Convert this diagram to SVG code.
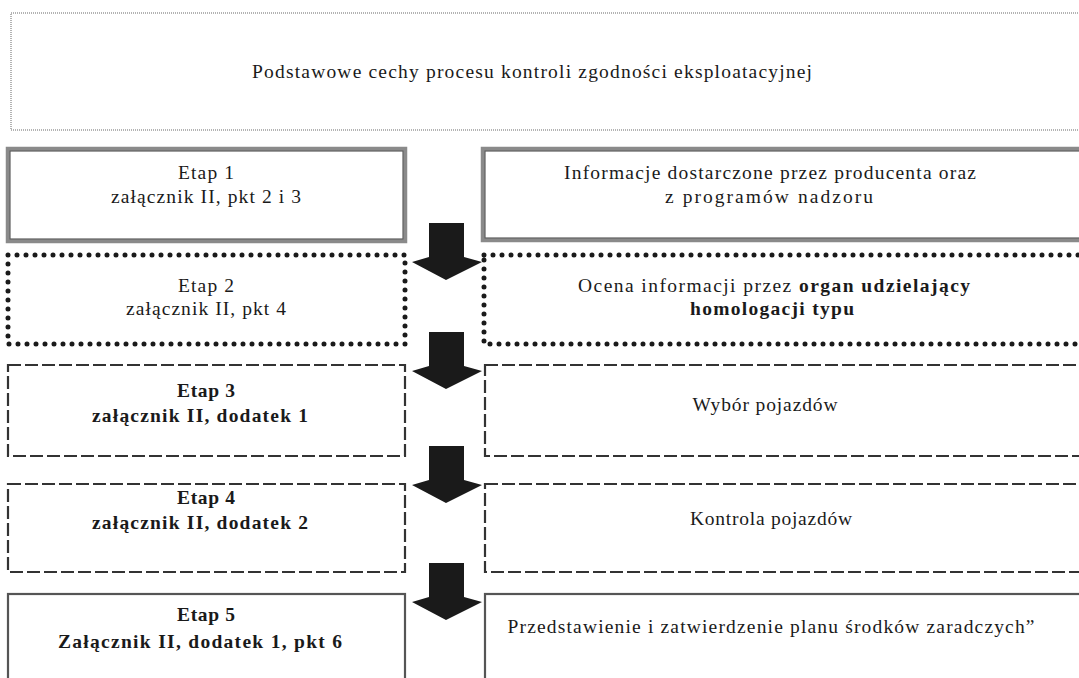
<svg xmlns="http://www.w3.org/2000/svg" width="1079" height="678" viewBox="0 0 1079 678">
<style>
text{font-family:"Liberation Serif","Times New Roman",serif;font-size:19.5px;fill:#1a1a1a;text-anchor:middle}
.b{font-weight:bold}
.top{fill:none;stroke:#9a9a9a;stroke-width:1.5;stroke-dasharray:1 1}
.dbl{fill:none;stroke:#8a8a8a;stroke-width:4.5}
.dbli{fill:none;stroke:#5a5a5a;stroke-width:1}
.dot{fill:none;stroke:#1a1a1a;stroke-width:5;stroke-linecap:round;stroke-dasharray:0 9}
.dash{fill:none;stroke:#333;stroke-width:2.2;stroke-dasharray:13 4}
.sol{fill:none;stroke:#555;stroke-width:2.2}
.arr{fill:#1a1a1a}
</style>
<defs>
<path id="arrow" d="M429,0 L464,0 L464,34 L482,39 L446,57 L412,39 L429,34 Z"/>
</defs>
<g id="title">
<rect class="top" x="11" y="13" width="1090" height="117"/>
<text x="532" y="78" textLength="560" lengthAdjust="spacing">Podstawowe cechy procesu kontroli zgodności eksploatacyjnej</text>
</g>
<g id="etap1">
<rect class="dbl" x="8" y="149" width="397" height="92"/>
<rect class="dbli" x="10" y="151" width="393" height="88"/>
<text x="206" y="179" textLength="56" lengthAdjust="spacing">Etap 1</text>
<text x="206" y="203" textLength="190" lengthAdjust="spacing">załącznik II, pkt 2 i 3</text>
</g>
<g id="info1">
<rect class="dbl" x="483" y="149" width="620" height="91"/>
<rect class="dbli" x="485" y="151" width="616" height="87"/>
<text x="770" y="179" textLength="412" lengthAdjust="spacing">Informacje dostarczone przez producenta oraz</text>
<text x="769" y="203" textLength="208" lengthAdjust="spacing">z programów nadzoru</text>
</g>
<g id="etap2">
<rect class="dot" x="8" y="255" width="397" height="89"/>
<text x="206" y="292" textLength="56" lengthAdjust="spacing">Etap 2</text>
<text x="206" y="315" textLength="160" lengthAdjust="spacing">załącznik II, pkt 4</text>
</g>
<g id="info2">
<rect class="dot" x="484" y="255" width="620" height="89"/>
<text x="774" y="292" textLength="392" lengthAdjust="spacing">Ocena informacji przez <tspan class="b">organ udzielający</tspan></text>
<text x="772" y="315" class="b" textLength="164" lengthAdjust="spacing">homologacji typu</text>
</g>
<g id="etap3">
<rect class="dash" x="8" y="365" width="397" height="91"/>
<text x="206" y="397" class="b" textLength="58" lengthAdjust="spacing">Etap 3</text>
<text x="200" y="422" class="b" textLength="216" lengthAdjust="spacing">załącznik II, dodatek 1</text>
</g>
<g id="info3">
<rect class="dash" x="485" y="365" width="620" height="91"/>
<text x="765" y="411" textLength="145" lengthAdjust="spacing">Wybór pojazdów</text>
</g>
<g id="etap4">
<rect class="dash" x="8" y="484" width="397" height="88"/>
<text x="206" y="504" class="b" textLength="58" lengthAdjust="spacing">Etap 4</text>
<text x="200" y="529" class="b" textLength="216" lengthAdjust="spacing">załącznik II, dodatek 2</text>
</g>
<g id="info4">
<rect class="dash" x="485" y="484" width="620" height="88"/>
<text x="771" y="525" textLength="162" lengthAdjust="spacing">Kontrola pojazdów</text>
</g>
<g id="etap5">
<rect class="sol" x="8" y="594" width="397" height="120"/>
<text x="206" y="621" class="b" textLength="58" lengthAdjust="spacing">Etap 5</text>
<text x="200" y="648" class="b" textLength="284" lengthAdjust="spacing">Załącznik II, dodatek 1, pkt 6</text>
</g>
<g id="info5">
<rect class="sol" x="485" y="594" width="620" height="120"/>
<text x="771" y="633" textLength="527" lengthAdjust="spacing">Przedstawienie i zatwierdzenie planu środków zaradczych”</text>
</g>
<g id="connectors">
<use href="#arrow" class="arr" y="223"/>
<use href="#arrow" class="arr" y="332"/>
<use href="#arrow" class="arr" y="446"/>
<use href="#arrow" class="arr" y="563"/>
</g>
</svg>
